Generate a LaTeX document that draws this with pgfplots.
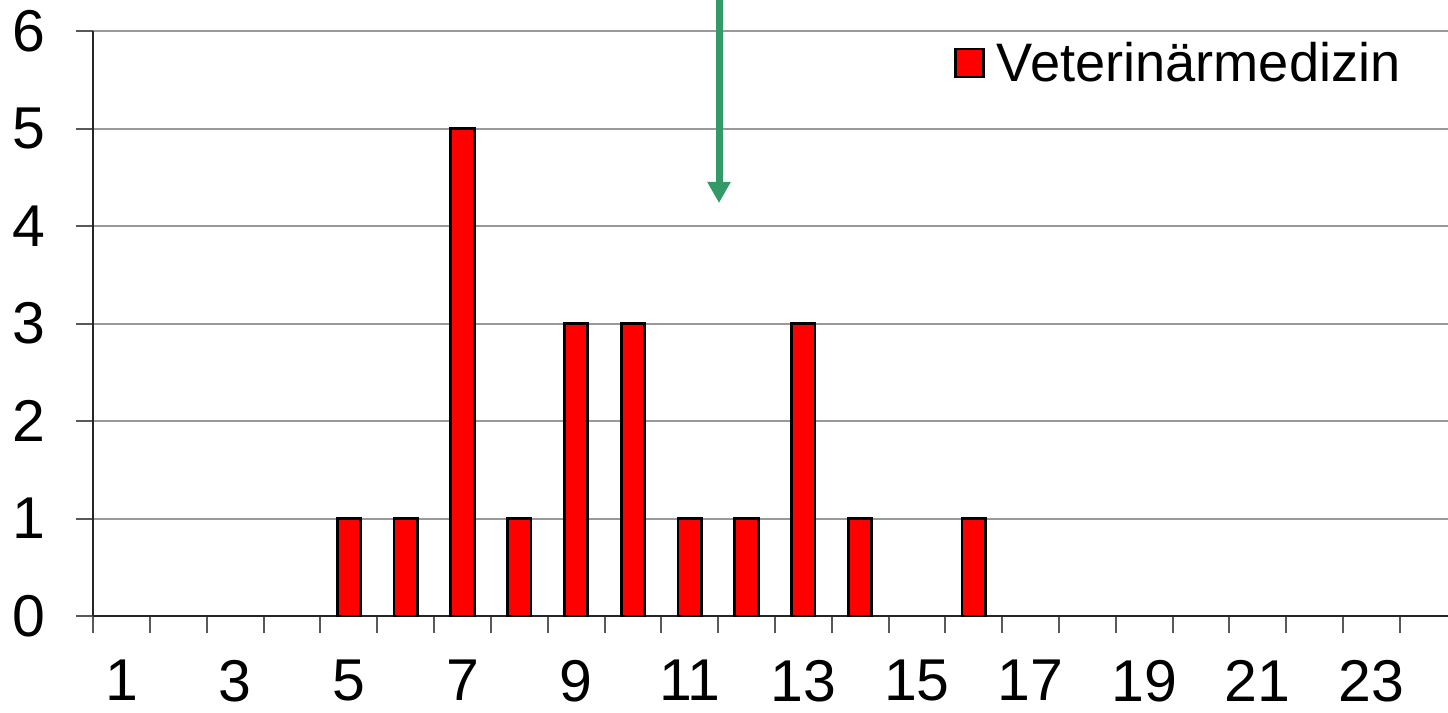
\documentclass[border=0pt]{standalone}
\usepackage{fontspec}
\setmainfont{Liberation Sans}
\usepackage{pgfplots}
\pgfplotsset{compat=1.18}
\usetikzlibrary{arrows.meta}
\definecolor{barred}{RGB}{255,0,0}
\definecolor{arrowgreen}{RGB}{51,153,102}
\begin{document}
\begin{tikzpicture}
\begin{axis}[
  scale only axis, width=681.6pt, height=292.5pt,
  xmin=0.5, xmax=24.5, ymin=0, ymax=6,
  axis x line*=bottom, axis y line*=left,
  axis line style={line width=1pt, black!85, -},
  xtick={1,3,...,23},
  minor xtick={0.5,1.5,...,24.5},
  major x tick style={draw=none},
  minor x tick style={line width=1pt, black!65},
  minor tick length=8.5pt,
  ytick={0,...,6},
  major tick length=8.5pt,
  xtick align=outside, ytick align=outside,
  ytick style={line width=1pt, black!65},
  ymajorgrids, grid style={line width=1pt, black!40},
  tick label style={font=\fontsize{29.5}{32}\selectfont, inner sep=0pt},
  xticklabel style={yshift=-13.4pt},
  yticklabel style={xshift=-15.5pt},
  /pgf/number format/assume math mode=true,
  clip=false,
  legend style={draw=none, fill=none, at={(axis cs:15.65,5.67)}, anchor=west,
    inner sep=0pt, font=\fontsize{27.1}{30}\selectfont},
  legend cell align=left,
]
\addplot[ybar, bar width=11.65pt, fill=barred, draw=black, line width=1.4pt,
  legend image code/.code={\draw[fill=barred, draw=black, line width=1.3pt] (0pt,-7pt) rectangle (14pt,7pt); \path (18pt,0pt);}]
  coordinates {(5,1) (6,1) (7,5) (8,1) (9,3) (10,3) (11,1) (12,1) (13,3) (14,1) (16,1)};
\addlegendentry{Veterinärmedizin}
\draw[-{Triangle[width=11pt,length=10.5pt]}, line width=3.5pt, draw=arrowgreen, fill=arrowgreen]
  (axis cs:11.516,6.6) -- (axis cs:11.516,4.236);
\end{axis}
\pgfresetboundingbox
\useasboundingbox (-46.65pt,-48.5pt) rectangle (677.35pt,308pt);
\end{tikzpicture}
\end{document}
